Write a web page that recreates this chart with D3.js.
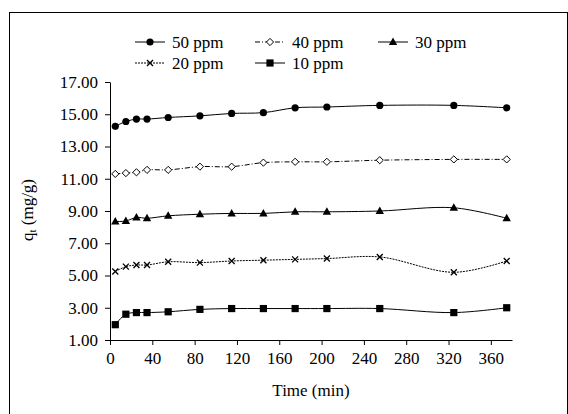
<!DOCTYPE html>
<html><head><meta charset="utf-8">
<script src="https://cdn.jsdelivr.net/npm/d3@7"></script>
<style>body{margin:0;background:#fff}svg text{font-family:'Liberation Serif','Times New Roman',serif !important}</style>
</head><body><div id="chart"></div>
<script>
const times = [5, 15, 25, 35, 55, 85, 115, 145, 175, 205, 255, 325, 375];
const s50 = [14.25, 14.55, 14.7, 14.7, 14.8, 14.9, 15.05, 15.1, 15.4, 15.45, 15.55, 15.55, 15.4];
const s40 = [11.3, 11.35, 11.4, 11.55, 11.55, 11.75, 11.75, 12.0, 12.05, 12.05, 12.15, 12.2, 12.2];
const s30 = [8.35, 8.38, 8.6, 8.55, 8.7, 8.8, 8.85, 8.85, 8.95, 8.95, 9.0, 9.2, 8.55];
const s20 = [5.25, 5.55, 5.65, 5.65, 5.85, 5.8, 5.9, 5.95, 6.0, 6.05, 6.15, 5.2, 5.9];
const s10 = [1.95, 2.6, 2.7, 2.7, 2.75, 2.9, 2.95, 2.95, 2.95, 2.95, 2.95, 2.7, 3.0];
const xTicks = [0, 40, 80, 120, 160, 200, 240, 280, 320, 360];
const yTicks = [1, 3, 5, 7, 9, 11, 13, 15, 17];

const series = [
  {name: "50 ppm", vals: s50, marker: "circle", dash: null},
  {name: "40 ppm", vals: s40, marker: "diamond", dash: "5,2,1,2"},
  {name: "30 ppm", vals: s30, marker: "triangle", dash: null},
  {name: "20 ppm", vals: s20, marker: "cross", dash: "2,1"},
  {name: "10 ppm", vals: s10, marker: "square", dash: null}
];

const W = 568, H = 414, FS = 17;
const svg = d3.select("#chart").append("svg").attr("width", W).attr("height", H);
svg.append("rect").attr("x", 9.5).attr("y", 12.5).attr("width", W - 10).attr("height", H - 12)
  .attr("fill", "none").attr("stroke", "#000").attr("stroke-width", 1);

const x = d3.scaleLinear().domain([0, 380]).range([110, 512]);
const y = d3.scaleLinear().domain([1, 17]).range([340, 82]);

svg.append("g").attr("transform", "translate(0,340)")
  .call(d3.axisBottom(x).tickValues(xTicks).tickSize(5).tickSizeOuter(0))
  .call(g => g.selectAll("text").attr("font-size", FS).attr("dy", "0.95em").attr("fill", "#000"));
svg.append("g").attr("transform", "translate(110,0)")
  .call(d3.axisLeft(y).tickValues(yTicks).tickFormat(d3.format(".2f")).tickSize(5).tickSizeOuter(0))
  .call(g => g.selectAll("text").attr("font-size", FS).attr("x", -12).attr("fill", "#000"));
svg.selectAll(".domain, .tick line").attr("stroke", "#000");

svg.append("text").attr("x", 311).attr("y", 396).attr("text-anchor", "middle").attr("font-size", FS).text("Time (min)");
const yl = svg.append("text").attr("transform", "translate(33,210) rotate(-90)").attr("text-anchor", "middle").attr("font-size", FS);
yl.append("tspan").text("q");
yl.append("tspan").attr("font-size", 11).attr("dy", 3).text("t");
yl.append("tspan").attr("dy", -3).text(" (mg/g)");

function drawMarker(g, type, cx, cy) {
  if (type === "circle") g.append("circle").attr("cx", cx).attr("cy", cy).attr("r", 3.6).attr("fill", "#000");
  else if (type === "square") g.append("rect").attr("x", cx - 3.6).attr("y", cy - 3.6).attr("width", 7.2).attr("height", 7.2).attr("fill", "#000");
  else if (type === "triangle") g.append("path").attr("d", `M${cx},${cy - 4.5}L${cx + 4.2},${cy + 3}L${cx - 4.2},${cy + 3}Z`).attr("fill", "#000");
  else if (type === "diamond") g.append("path").attr("d", `M${cx},${cy - 3.6}L${cx + 3.6},${cy}L${cx},${cy + 3.6}L${cx - 3.6},${cy}Z`).attr("fill", "#fff").attr("stroke", "#000").attr("stroke-width", 1);
  else if (type === "cross") g.append("path").attr("d", `M${cx - 3},${cy - 3}L${cx + 3},${cy + 3}M${cx - 3},${cy + 3}L${cx + 3},${cy - 3}`).attr("stroke", "#000").attr("stroke-width", 1.3);
}

const line = d3.line().x(d => x(d[0])).y(d => y(d[1])).curve(d3.curveCatmullRom.alpha(0.5));
series.forEach(s => {
  const pts = times.map((t, i) => [t, s.vals[i]]);
  svg.append("path").datum(pts).attr("d", line).attr("fill", "none").attr("stroke", "#000")
    .attr("stroke-width", 1).attr("stroke-dasharray", s.dash);
  const g = svg.append("g");
  pts.forEach(p => drawMarker(g, s.marker, x(p[0]), y(p[1])));
});

// legend
const legPos = [[135, 42], [255, 42], [378, 42], [135, 63], [255, 63]];
series.forEach((s, i) => {
  const [lx, ly] = legPos[i];
  const g = svg.append("g");
  g.append("line").attr("x1", lx).attr("x2", lx + 30).attr("y1", ly).attr("y2", ly)
    .attr("stroke", "#000").attr("stroke-dasharray", s.dash);
  drawMarker(g, s.marker, lx + 15, ly);
  g.append("text").attr("x", lx + 37).attr("y", ly + 5.5).attr("font-size", FS).text(s.name);
});
</script></body></html>
